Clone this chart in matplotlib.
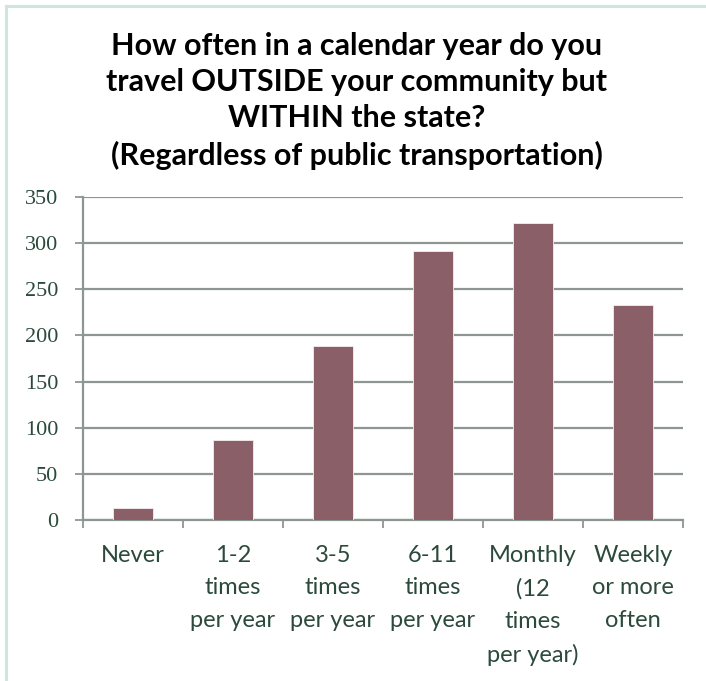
import matplotlib
matplotlib.use("Agg")
import matplotlib.pyplot as plt
from matplotlib.lines import Line2D

categories = ["Never", "1-2\ntimes\nper year", "3-5\ntimes\nper year", "6-11\ntimes\nper year",
              "Monthly\n(12\ntimes\nper year)", "Weekly\nor more\noften"]
values = [13, 87, 189, 292, 322, 233]
yticks = [0, 50, 100, 150, 200, 250, 300, 350]

title = ("How often in a calendar year do you\ntravel OUTSIDE your community but\n"
         "WITHIN the state?\n(Regardless of public transportation)")

W, H = 706, 681
fig = plt.figure(figsize=(W / 100, H / 100), dpi=100)
fig.patch.set_facecolor("white")

# light border (left & top)
border_color = "#cfe6dd"
fig.add_artist(Line2D([6 / W, 6 / W], [0, 1 - 6 / H], transform=fig.transFigure,
                      color=border_color, lw=2.2))
fig.add_artist(Line2D([6 / W, 1], [1 - 6 / H, 1 - 6 / H], transform=fig.transFigure,
                      color=border_color, lw=2.2))

ax = fig.add_axes([83 / W, 1 - 520 / H, (683 - 83) / W, (520 - 197) / H])
x = list(range(len(categories)))
ax.bar(x, values, width=0.4, color="#8b5f68", edgecolor="#f4eef0", linewidth=0.6, zorder=3)

ax.set_xlim(-0.5, len(categories) - 0.5)
ax.set_ylim(0, 350)
ax.set_yticks(yticks)
ax.set_yticklabels([str(v) for v in yticks], fontfamily="Liberation Serif", fontsize=16,
                   color="#2b4a3c")
ax.grid(axis="y", color="#8e9691", linewidth=1.6, zorder=0)
ax.set_axisbelow(True)

ax.set_xticks(x)
ax.set_xticklabels(categories, fontfamily="Lato", fontsize=17, color="#2b4a3c",
                   linespacing=1.67, va="top")
ax.tick_params(axis="x", which="major", length=0, pad=18)
ax.set_xticks([i - 0.5 for i in range(len(categories) + 1)], minor=True)
ax.tick_params(axis="x", which="minor", length=6, width=1.3, color="#8e9691")
ax.tick_params(axis="y", length=6, width=1.3, color="#8e9691", pad=12)

for s in ["top", "right"]:
    ax.spines[s].set_visible(False)
for s in ["left", "bottom"]:
    ax.spines[s].set_color("#8e9691")
    ax.spines[s].set_linewidth(1.6)

fig.text(357 / W, 1 - 32 / H, title, ha="center", va="top", fontfamily="Lato",
         fontweight="bold", fontsize=22, linespacing=1.35, color="black")

fig.savefig("out.png", dpi=100)
